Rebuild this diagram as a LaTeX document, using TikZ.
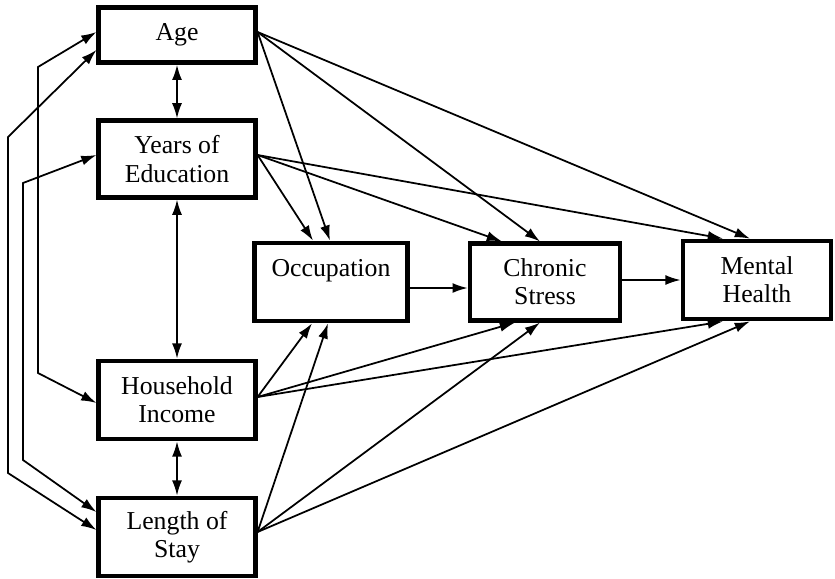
\documentclass[tikz,border=0pt]{standalone}
\usepackage{fontspec}
\setmainfont{Liberation Serif}
\newfontfamily\boxfont{Liberation Serif}
\usetikzlibrary{arrows.meta,calc}

\begin{document}
\begin{tikzpicture}[x=0.03cm,y=-0.03cm,
  box/.style={draw,line width=3.8pt,align=center,inner sep=0pt,
    font=\boxfont\fontsize{22}{24}\selectfont},
  arr/.style={line width=1.5pt,-{Latex[length=13pt,width=8.5pt]}},
  darr/.style={line width=1.5pt,{Latex[length=13pt,width=8.5pt]}-{Latex[length=13pt,width=8.5pt]}}]
\useasboundingbox (0,0) rectangle (835,578);
% left column
\node[box,minimum width=4.7cm,minimum height=1.65cm] (age) at (177,35) {Age};
\node[box,minimum width=4.7cm,minimum height=2.3cm] (edu) at (177,159) {Years of\\Education};
\node[box,minimum width=4.7cm,minimum height=2.35cm] (hi) at (177,400) {Household\\Income};
\node[box,minimum width=4.7cm,minimum height=2.35cm] (los) at (177,537) {Length of\\Stay};
% middle and right
\node[box,minimum width=4.6cm,minimum height=2.35cm] (occ) at (331,282) {Occupation\\\mbox{}};
\node[box,minimum width=4.5cm,minimum height=2.3cm] (cs) at (545,282) {Chronic\\Stress};
\node[box,minimum width=4.45cm,minimum height=2.35cm] (mh) at (757,280) {Mental\\Health};
% vertical links
\draw[darr] (age.south) -- (edu.north);
\draw[darr] (edu.south) -- (hi.north);
\draw[darr] (hi.south) -- (los.north);
% left loops
\draw[darr] ($(age.west)+(0,-3)$) -- (38,67) -- (38,373) -- ($(hi.west)+(0,3)$);
\draw[darr] ($(age.west)+(0,15)$) -- (8,137) -- (8,473) -- ($(los.west)+(0,-7)$);
\draw[darr] ($(edu.west)+(0,-4)$) -- (23,183) -- (23,460) -- ($(los.west)+(0,-25)$);
% from Age
\draw[arr] ($(age.east)+(0,-3)$) -- ($(occ.north)+(-1,0)$);
\draw[arr] ($(age.east)+(0,-3)$) -- ($(cs.north)+(-5,0)$);
\draw[arr] ($(age.east)+(0,-3)$) -- ($(mh.north)+(-7,0)$);
% from Education
\draw[arr] ($(edu.east)+(0,-4)$) -- ($(occ.north)+(-18,0)$);
\draw[arr] ($(edu.east)+(0,-4)$) -- ($(cs.north)+(-43,0)$);
\draw[arr] ($(edu.east)+(0,-4)$) -- ($(mh.north)+(-34,0)$);
% from Income
\draw[arr] ($(hi.east)+(0,-3)$) -- ($(occ.south)+(-19,0)$);
\draw[arr] ($(hi.east)+(0,-3)$) -- ($(cs.south)+(-30,0)$);
\draw[arr] ($(hi.east)+(0,-3)$) -- ($(mh.south)+(-34,0)$);
% from Length of Stay
\draw[arr] ($(los.east)+(0,-5)$) -- ($(occ.south)+(-3,0)$);
\draw[arr] ($(los.east)+(0,-5)$) -- ($(cs.south)+(-5,0)$);
\draw[arr] ($(los.east)+(0,-5)$) -- ($(mh.south)+(-7,0)$);
% chain
\draw[arr] ($(occ.east)+(0,6)$) -- ($(cs.west)+(0,6)$);
\draw[arr] ($(cs.east)+(0,-2)$) -- (mh.west);
\end{tikzpicture}
\end{document}
